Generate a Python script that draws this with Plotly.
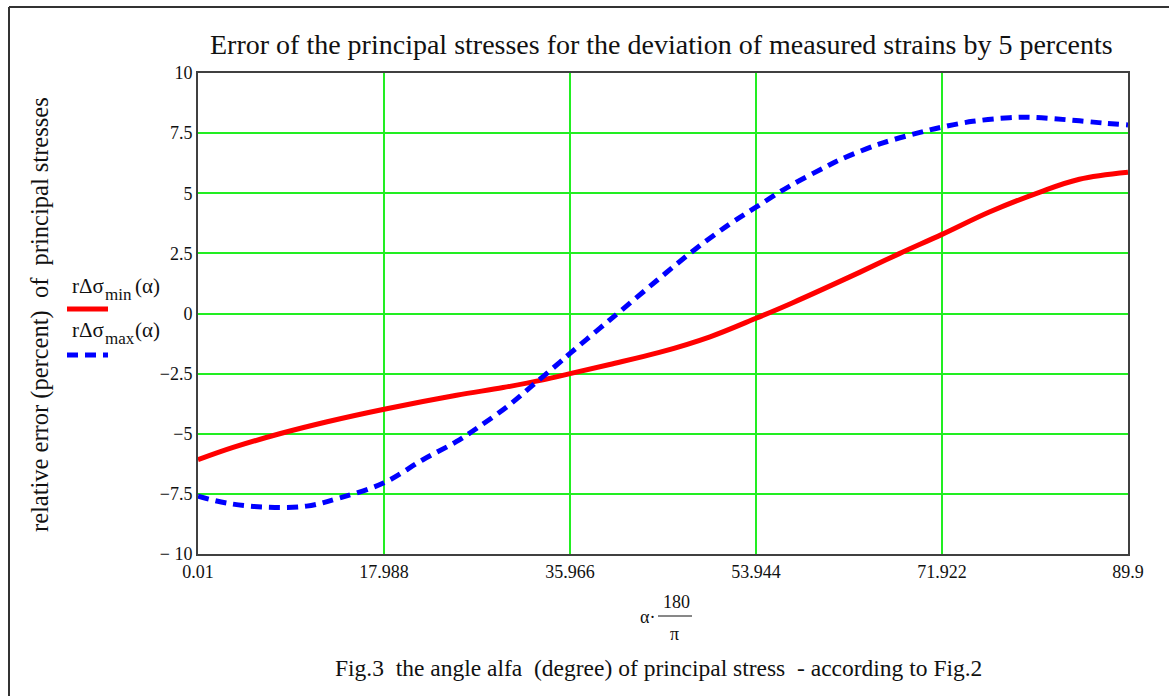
import plotly.graph_objects as go

# ---------------- data ----------------
min_angle = [0.01, 3.4, 7.9, 12.5, 18.0, 25.0, 29.5, 33.35, 35.97, 39.8, 44.6, 49.5,
             53.94, 57.5, 64.0, 67.8, 71.92, 76.5, 81.4, 85.2, 89.9]
min_err = [-6.08, -5.57, -5.0, -4.50, -3.98, -3.40, -3.08, -2.76, -2.50, -2.12, -1.62, -0.97,
           -0.20, 0.45, 1.72, 2.49, 3.29, 4.22, 5.05, 5.58, 5.87]

max_angle = [0.01, 3.0, 6.6, 10.5, 13.7, 17.99, 21.75, 24.97, 27.2, 30.1,
             32.4, 35.0, 35.97, 38.83, 40.76, 44.3, 47.85, 51.4, 53.94, 57.2,
             60.7, 62.0, 65.9, 69.8, 71.92, 74.9, 78.45, 80.4, 83.9, 87.5, 89.9]
max_err = [-7.6, -7.9, -8.05, -8.01, -7.67, -7.04, -6.08, -5.33, -4.70, -3.80,
           -2.97, -2.02, -1.66, -0.62, 0.07, 1.35, 2.60, 3.72, 4.42, 5.30,
           6.10, 6.38, 7.05, 7.53, 7.75, 7.99, 8.14, 8.16, 8.06, 7.92, 7.84]

x_tickvals = [0.01, 17.988, 35.966, 53.944, 71.922, 89.9]
x_ticktext = ["0.01", "17.988", "35.966", "53.944", "71.922", "89.9"]
y_tickvals = [10, 7.5, 5, 2.5, 0, -2.5, -5, -7.5, -10]
y_ticktext = ["10", "7.5", "5", "2.5", "0", "\u22122.5", "\u22125", "\u22127.5", "\u2212 10"]

title_text = "Error of the principal stresses for the deviation of measured strains by 5 percents"
ylabel_text = "relative error (percent)\u00a0 of\u00a0 principal stresses"
caption_text = "Fig.3\u00a0 the angle alfa\u00a0 (degree) of principal stress\u00a0 - according to Fig.2"
legend_base = "r\u0394\u03c3"
legend_subs = ["min", "max"]
legend_arg = "(\u03b1)"

# ---------------- layout helpers ----------------
W, H = 1169, 696
L, R, T, B = 198, 1128, 73, 554


def px(xp):
    return (xp - L) / (R - L)


def py(yp):
    return (B - yp) / (B - T)


FONT = "Liberation Serif, Times New Roman, serif"
TXT = "#111"

fig = go.Figure()
fig.add_trace(go.Scatter(x=min_angle, y=min_err, mode="lines",
                         line=dict(color="#ff0000", width=5, shape="spline", smoothing=1.0),
                         showlegend=False, hoverinfo="skip"))
fig.add_trace(go.Scatter(x=max_angle, y=max_err, mode="lines",
                         line=dict(color="#0000ff", width=5, dash="11px,7px",
                                   shape="spline", smoothing=1.0),
                         showlegend=False, hoverinfo="skip"))

axis_common = dict(showline=True, linecolor="#404040", linewidth=2, mirror=True,
                   showgrid=True, gridcolor="#22ee22", gridwidth=1.5, zeroline=False,
                   ticks="", tickfont=dict(family=FONT, size=18, color=TXT))

fig.update_xaxes(range=[0.01, 89.9], tickmode="array", tickvals=x_tickvals,
                 ticktext=x_ticktext, **axis_common)
fig.update_yaxes(range=[-10, 10], tickmode="array", tickvals=y_tickvals,
                 ticktext=y_ticktext, ticklabelstandoff=0, **axis_common)


def note(text, xp, yp, size, xanchor="center", angle=0):
    return dict(text=text, x=px(xp), y=py(yp), xref="paper", yref="paper",
                showarrow=False, xanchor=xanchor, yanchor="middle", textangle=angle,
                font=dict(family=FONT, size=size, color=TXT))


ann = [
    note(title_text, 661, 44, 28),
    note(ylabel_text, 40, 315, 24.5, angle=-90),
    note(caption_text, 658, 668, 23.5),
    note("\u03b1\u00b7", 657, 617, 18, xanchor="right"),
    note("180", 676, 602, 18),
    note("\u03c0", 674, 634, 18),
]
# legend labels
for i, sub in enumerate(legend_subs):
    yc = 286 + i * 44
    ann.append(note(legend_base, 70, yc, 21, xanchor="left"))
    ann.append(note(sub, 103, yc + 8, 17, xanchor="left"))
    ann.append(note(legend_arg, 133, yc, 21, xanchor="left"))

shapes = [
    # fraction bar
    dict(type="line", xref="paper", yref="paper", x0=px(658), x1=px(692),
         y0=py(616), y1=py(616), line=dict(color=TXT, width=1)),
    # legend samples
    dict(type="line", xref="paper", yref="paper", x0=px(67), x1=px(108),
         y0=py(309), y1=py(309), line=dict(color="#ff0000", width=5)),
    dict(type="line", xref="paper", yref="paper", x0=px(67), x1=px(108),
         y0=py(355), y1=py(355), line=dict(color="#0000ff", width=5, dash="11px,7px")),
    # outer frame (left and top edges)
    dict(type="line", xref="paper", yref="paper", x0=px(9), x1=px(9),
         y0=py(7), y1=py(700), line=dict(color="#333", width=2)),
    dict(type="line", xref="paper", yref="paper", x0=px(9), x1=px(1175),
         y0=py(7), y1=py(7), line=dict(color="#333", width=2)),
]

fig.update_layout(width=W, height=H, margin=dict(l=L, r=W - R, t=T, b=H - B, pad=0),
                  paper_bgcolor="white", plot_bgcolor="white",
                  annotations=ann, shapes=shapes, showlegend=False)

fig.write_html("out.html", config={"displayModeBar": False},
               post_script="document.body.style.margin='0px';document.body.style.overflow='hidden';")
